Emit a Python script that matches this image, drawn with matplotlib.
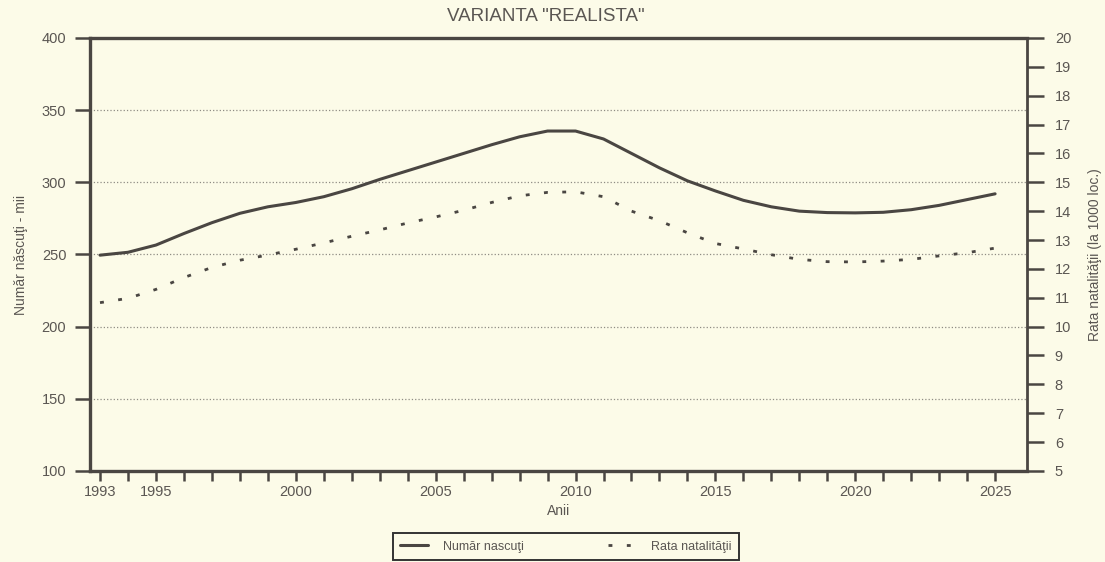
"""Varianta "realista": numar nascuti si rata natalitatii, 1993-2025."""

import matplotlib
matplotlib.use('Agg')
import matplotlib.pyplot as plt

plt.rcParams['font.family'] = ['Liberation Sans', 'DejaVu Sans']

# Date
ani = list(range(1993, 2026))
nascuti_mii = [249.5, 251.5, 256.5, 264.5, 272, 278.5, 283, 286, 290, 295.5,
               302, 308, 314, 320, 326, 331.5, 335.5, 335.5, 330, 320,
               310, 301, 294, 287.5, 283, 280, 279, 278.8, 279.2, 281,
               284, 288, 292]
rata_natalitate = [10.83, 10.98, 11.29, 11.7, 12.05, 12.3, 12.48, 12.68, 12.9, 13.13,
                   13.35, 13.59, 13.8, 14.03, 14.3, 14.53, 14.65, 14.67, 14.5, 14.0,
                   13.67, 13.25, 12.88, 12.69, 12.49, 12.33, 12.25, 12.24, 12.27, 12.33,
                   12.45, 12.56, 12.72]
ani_etichete = [1993, 1995, 2000, 2005, 2010, 2015, 2020, 2025]

fundal = '#fcfbe8'
culoare_linie = '#4a4642'
culoare_text = '#5a5652'

fig = plt.figure(figsize=(11.05, 5.62), dpi=100, facecolor=fundal)
ax = fig.add_axes([0.0814, 0.162, 0.848, 0.7705], facecolor=fundal)
ax2 = ax.twinx()

l1, = ax.plot(ani, nascuti_mii, color=culoare_linie, lw=2.2, solid_capstyle='round',
              label='Număr nascuţi')
l2, = ax2.plot(ani, rata_natalitate, color=culoare_linie, lw=2.0,
               dashes=(1.4, 5.2), label='Rata natalităţii')

ax.set_xlim(1992.64, 2026.14)
ax.set_ylim(100, 400)
ax2.set_ylim(5, 20)

ax.set_yticks(range(100, 401, 50))
ax2.set_yticks(range(5, 21))
ax.set_xticks(ani)
ax.set_xticklabels([str(a) if a in ani_etichete else '' for a in ani])

ax.yaxis.grid(True, linestyle=':', color='#8f8c84', lw=0.9)
ax.set_axisbelow(True)

for s in ['left', 'bottom', 'top']:
    ax.spines[s].set_linewidth(2.4)
    ax.spines[s].set_color(culoare_linie)
ax.spines['right'].set_visible(False)
for s in ['left', 'bottom', 'top']:
    ax2.spines[s].set_visible(False)
ax2.spines['right'].set_linewidth(2.0)
ax2.spines['right'].set_color(culoare_linie)

ax.tick_params(axis='y', direction='out', length=11, width=1.8, color=culoare_linie,
               labelsize=10.5, labelcolor=culoare_text, pad=6)
ax.tick_params(axis='x', direction='out', length=7, width=1.8, color=culoare_linie,
               labelsize=10.5, labelcolor=culoare_text, pad=3)
ax2.tick_params(axis='y', direction='out', length=12, width=1.8, color=culoare_linie,
                labelsize=10.5, labelcolor=culoare_text, pad=8)

fig.text(0.494, 0.970, 'VARIANTA "REALISTA"', fontsize=13.5, color=culoare_text,
         ha='center', va='center')
ax.set_xlabel('Anii', fontsize=10, color=culoare_text, labelpad=4)
ax.set_ylabel('Număr născuţi - mii', fontsize=10, color=culoare_text, labelpad=10)
ax2.set_ylabel('Rata natalităţii (la 1000 loc.)', fontsize=10, color=culoare_text,
               labelpad=12)

leg = fig.legend(handles=[l1, l2], loc='center', bbox_to_anchor=(0.512, 0.027),
                 ncol=2, frameon=True, fancybox=False, edgecolor='#333333',
                 facecolor=fundal, fontsize=9, handlelength=2.2, handletextpad=1.2,
                 columnspacing=6.8, borderpad=0.6, borderaxespad=0, framealpha=1)
leg.get_frame().set_linewidth(1.4)
for t in leg.get_texts():
    t.set_color(culoare_text)

fig.savefig('out.png', dpi=100, facecolor=fundal)
